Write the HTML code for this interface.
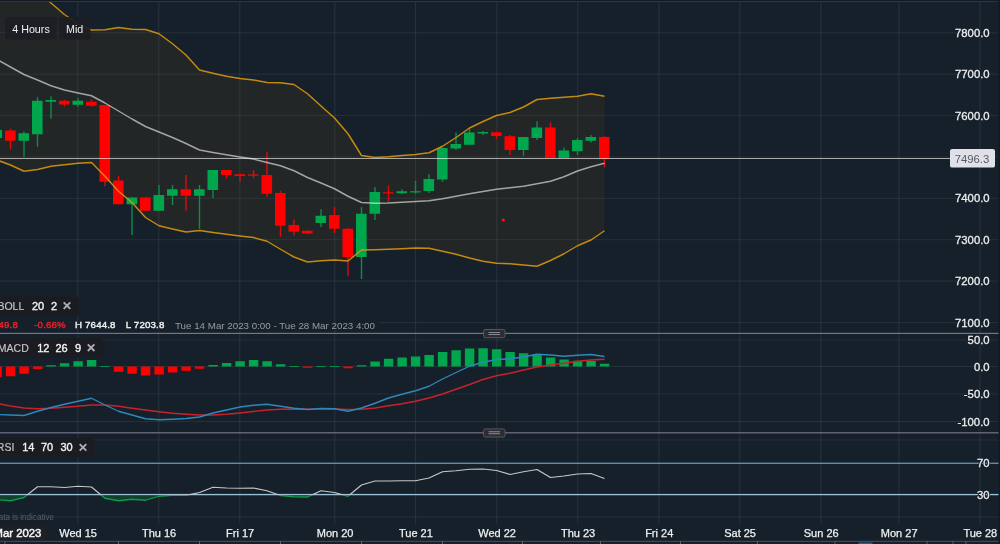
<!DOCTYPE html>
<html lang="en"><head><meta charset="utf-8"><title>Chart</title>
<style>html,body{margin:0;padding:0;background:#111a22;overflow:hidden}svg{display:block}text{font-family:"Liberation Sans",sans-serif}</style>
</head><body>
<svg width="1000" height="544" viewBox="0 0 1000 544">
<rect x="0" y="0" width="1000" height="544" fill="#111a22"/>
<rect x="0" y="1" width="998.5" height="543" fill="#16202a"/>
<rect x="0" y="1" width="998.5" height="1" fill="#2a3845"/>
<clipPath id="mainclip"><rect x="0" y="2" width="998.5" height="331"/></clipPath>
<g clip-path="url(#mainclip)">
<polygon fill="#232727" fill-opacity="0.96" points="-3.0,-52.00 10.5,-38.00 24.0,-24.00 37.5,-10.00 51.0,3.00 64.5,14.50 78.0,24.00 91.5,30.00 105.0,29.75 118.5,27.50 132.0,29.25 145.5,29.50 159.0,33.75 172.5,43.75 186.0,55.00 199.5,70.00 213.0,73.25 226.5,76.25 240.0,78.50 253.5,80.00 267.0,82.50 280.5,82.75 294.0,84.50 307.5,93.75 321.0,106.00 334.5,118.00 348.0,133.75 361.5,155.50 375.0,157.50 388.5,156.75 402.0,155.50 415.5,154.50 429.0,152.75 442.5,146.25 456.0,137.50 469.5,128.00 483.0,121.50 496.5,115.50 510.0,112.50 523.5,107.00 537.0,99.50 550.5,98.25 564.0,97.25 577.5,96.25 591.0,93.75 604.5,96.25 604.5,230.75 591.0,240.00 577.5,245.75 564.0,253.75 550.5,260.50 537.0,266.25 523.5,265.00 510.0,263.75 496.5,263.25 483.0,261.25 469.5,258.00 456.0,254.25 442.5,251.25 429.0,248.25 415.5,248.00 402.0,248.75 388.5,249.25 375.0,249.75 361.5,250.00 348.0,261.00 334.5,260.00 321.0,260.75 307.5,262.00 294.0,257.00 280.5,249.25 267.0,241.25 253.5,237.50 240.0,236.00 226.5,234.25 213.0,232.50 199.5,230.50 186.0,232.00 172.5,229.00 159.0,225.75 145.5,217.50 132.0,202.50 118.5,191.25 105.0,176.25 91.5,162.50 78.0,163.25 64.5,164.75 51.0,166.25 37.5,169.50 24.0,171.25 10.5,165.00 -3.0,160.00"/>
</g>
<rect x="77.3" y="2" width="1" height="521.5" fill="#8a97a3" fill-opacity="0.16"/>
<rect x="158.3" y="2" width="1" height="521.5" fill="#8a97a3" fill-opacity="0.16"/>
<rect x="239.3" y="2" width="1" height="521.5" fill="#8a97a3" fill-opacity="0.16"/>
<rect x="334.3" y="2" width="1" height="521.5" fill="#8a97a3" fill-opacity="0.16"/>
<rect x="415.1" y="2" width="1" height="521.5" fill="#8a97a3" fill-opacity="0.16"/>
<rect x="496.3" y="2" width="1" height="521.5" fill="#8a97a3" fill-opacity="0.16"/>
<rect x="577.3" y="2" width="1" height="521.5" fill="#8a97a3" fill-opacity="0.16"/>
<rect x="658.4" y="2" width="1" height="521.5" fill="#8a97a3" fill-opacity="0.16"/>
<rect x="739.3" y="2" width="1" height="521.5" fill="#8a97a3" fill-opacity="0.16"/>
<rect x="820.4" y="2" width="1" height="521.5" fill="#8a97a3" fill-opacity="0.16"/>
<rect x="898.4" y="2" width="1" height="521.5" fill="#8a97a3" fill-opacity="0.16"/>
<rect x="979.5" y="2" width="1" height="521.5" fill="#8a97a3" fill-opacity="0.16"/>
<rect x="0" y="32.30" width="998.5" height="1" fill="#8a97a3" fill-opacity="0.14"/>
<rect x="0" y="73.68" width="998.5" height="1" fill="#8a97a3" fill-opacity="0.14"/>
<rect x="0" y="115.06" width="998.5" height="1" fill="#8a97a3" fill-opacity="0.14"/>
<rect x="0" y="156.44" width="998.5" height="1" fill="#8a97a3" fill-opacity="0.14"/>
<rect x="0" y="197.82" width="998.5" height="1" fill="#8a97a3" fill-opacity="0.14"/>
<rect x="0" y="239.20" width="998.5" height="1" fill="#8a97a3" fill-opacity="0.14"/>
<rect x="0" y="280.58" width="998.5" height="1" fill="#8a97a3" fill-opacity="0.14"/>
<rect x="379" y="321.96" width="619.5" height="1" fill="#8a97a3" fill-opacity="0.14"/>
<rect x="0" y="339.50" width="998.5" height="1" fill="#8a97a3" fill-opacity="0.14"/>
<rect x="0" y="366.00" width="998.5" height="1" fill="#8a97a3" fill-opacity="0.14"/>
<rect x="0" y="393.50" width="998.5" height="1" fill="#8a97a3" fill-opacity="0.14"/>
<rect x="0" y="421.00" width="998.5" height="1" fill="#8a97a3" fill-opacity="0.14"/>
<rect x="0" y="439.50" width="998.5" height="1" fill="#8a97a3" fill-opacity="0.14"/>
<rect x="0" y="516.50" width="998.5" height="1" fill="#8a97a3" fill-opacity="0.14"/>
<g clip-path="url(#mainclip)">
<rect x="-3.70" y="128" width="1.4" height="12.00" fill="#0b8e46"/>
<rect x="-8.50" y="130" width="10.6" height="8.00" fill="#00a64c"/>
<rect x="9.80" y="128.75" width="1.4" height="20.75" fill="#dc0a0a"/>
<rect x="5.00" y="130.5" width="10.6" height="10.25" fill="#ff0000"/>
<rect x="23.30" y="131.5" width="1.4" height="25.50" fill="#0b8e46"/>
<rect x="18.50" y="133.25" width="10.6" height="7.50" fill="#00a64c"/>
<rect x="36.80" y="97" width="1.4" height="49.75" fill="#0b8e46"/>
<rect x="32.00" y="100.75" width="10.6" height="33.50" fill="#00a64c"/>
<rect x="50.30" y="96.25" width="1.4" height="22.50" fill="#0b8e46"/>
<rect x="45.50" y="100" width="10.6" height="1.75" fill="#00a64c"/>
<rect x="63.80" y="100" width="1.4" height="6.50" fill="#dc0a0a"/>
<rect x="59.00" y="100.75" width="10.6" height="3.75" fill="#ff0000"/>
<rect x="77.30" y="98.25" width="1.4" height="8.50" fill="#0b8e46"/>
<rect x="72.50" y="100.75" width="10.6" height="4.00" fill="#00a64c"/>
<rect x="90.80" y="99.5" width="1.4" height="7.25" fill="#dc0a0a"/>
<rect x="86.00" y="101.75" width="10.6" height="4.00" fill="#ff0000"/>
<rect x="104.30" y="105" width="1.4" height="81.25" fill="#dc0a0a"/>
<rect x="99.50" y="105" width="10.6" height="76.75" fill="#ff0000"/>
<rect x="117.80" y="175.75" width="1.4" height="28.50" fill="#dc0a0a"/>
<rect x="113.00" y="180.5" width="10.6" height="23.75" fill="#ff0000"/>
<rect x="131.30" y="197.5" width="1.4" height="37.50" fill="#0b8e46"/>
<rect x="126.50" y="197.5" width="10.6" height="6.75" fill="#00a64c"/>
<rect x="144.80" y="197.5" width="1.4" height="13.25" fill="#dc0a0a"/>
<rect x="140.00" y="197.5" width="10.6" height="13.25" fill="#ff0000"/>
<rect x="158.30" y="185" width="1.4" height="25.75" fill="#0b8e46"/>
<rect x="153.50" y="195" width="10.6" height="15.75" fill="#00a64c"/>
<rect x="171.80" y="185" width="1.4" height="20.00" fill="#0b8e46"/>
<rect x="167.00" y="189.25" width="10.6" height="6.50" fill="#00a64c"/>
<rect x="185.30" y="175" width="1.4" height="35.75" fill="#dc0a0a"/>
<rect x="180.50" y="189.25" width="10.6" height="6.50" fill="#ff0000"/>
<rect x="198.80" y="185" width="1.4" height="43.75" fill="#0b8e46"/>
<rect x="194.00" y="189.25" width="10.6" height="6.50" fill="#00a64c"/>
<rect x="212.30" y="170" width="1.4" height="28.00" fill="#0b8e46"/>
<rect x="207.50" y="170" width="10.6" height="20.00" fill="#00a64c"/>
<rect x="225.80" y="170" width="1.4" height="8.75" fill="#dc0a0a"/>
<rect x="221.00" y="170" width="10.6" height="5.00" fill="#ff0000"/>
<rect x="239.30" y="174" width="1.4" height="7.75" fill="#dc0a0a"/>
<rect x="234.50" y="174.25" width="10.6" height="1.75" fill="#ff0000"/>
<rect x="252.80" y="170" width="1.4" height="8.00" fill="#dc0a0a"/>
<rect x="248.00" y="174.5" width="10.6" height="1.20" fill="#ff0000"/>
<rect x="266.30" y="152" width="1.4" height="45.00" fill="#dc0a0a"/>
<rect x="261.50" y="175" width="10.6" height="18.75" fill="#ff0000"/>
<rect x="279.80" y="190.75" width="1.4" height="46.00" fill="#dc0a0a"/>
<rect x="275.00" y="193" width="10.6" height="32.75" fill="#ff0000"/>
<rect x="293.30" y="219.5" width="1.4" height="16.00" fill="#dc0a0a"/>
<rect x="288.50" y="225" width="10.6" height="6.75" fill="#ff0000"/>
<rect x="306.80" y="230" width="1.4" height="4.25" fill="#dc0a0a"/>
<rect x="302.00" y="230.75" width="10.6" height="2.75" fill="#ff0000"/>
<rect x="320.30" y="209.25" width="1.4" height="17.75" fill="#0b8e46"/>
<rect x="315.50" y="215.75" width="10.6" height="7.25" fill="#00a64c"/>
<rect x="333.80" y="207" width="1.4" height="26.00" fill="#dc0a0a"/>
<rect x="329.00" y="215" width="10.6" height="13.75" fill="#ff0000"/>
<rect x="347.30" y="228" width="1.4" height="48.25" fill="#dc0a0a"/>
<rect x="342.50" y="228.75" width="10.6" height="28.25" fill="#ff0000"/>
<rect x="360.80" y="207" width="1.4" height="72.00" fill="#0b8e46"/>
<rect x="356.00" y="213.75" width="10.6" height="43.25" fill="#00a64c"/>
<rect x="374.30" y="187" width="1.4" height="33.00" fill="#0b8e46"/>
<rect x="369.50" y="192" width="10.6" height="21.75" fill="#00a64c"/>
<rect x="387.80" y="185.5" width="1.4" height="16.50" fill="#dc0a0a"/>
<rect x="383.00" y="192.25" width="10.6" height="1.20" fill="#ff0000"/>
<rect x="401.30" y="189.25" width="1.4" height="4.75" fill="#0b8e46"/>
<rect x="396.50" y="191.25" width="10.6" height="2.00" fill="#00a64c"/>
<rect x="414.80" y="180.75" width="1.4" height="13.00" fill="#0b8e46"/>
<rect x="410.00" y="191.25" width="10.6" height="1.20" fill="#00a64c"/>
<rect x="428.30" y="174.25" width="1.4" height="18.75" fill="#0b8e46"/>
<rect x="423.50" y="179" width="10.6" height="12.00" fill="#00a64c"/>
<rect x="441.80" y="147.5" width="1.4" height="34.25" fill="#0b8e46"/>
<rect x="437.00" y="148" width="10.6" height="31.50" fill="#00a64c"/>
<rect x="455.30" y="132.5" width="1.4" height="17.50" fill="#0b8e46"/>
<rect x="450.50" y="144" width="10.6" height="4.50" fill="#00a64c"/>
<rect x="468.80" y="128.75" width="1.4" height="16.00" fill="#0b8e46"/>
<rect x="464.00" y="132.5" width="10.6" height="12.25" fill="#00a64c"/>
<rect x="482.30" y="131.25" width="1.4" height="3.75" fill="#0b8e46"/>
<rect x="477.50" y="132" width="10.6" height="1.50" fill="#00a64c"/>
<rect x="495.80" y="132.25" width="1.4" height="6.50" fill="#dc0a0a"/>
<rect x="491.00" y="132.25" width="10.6" height="3.75" fill="#ff0000"/>
<rect x="509.30" y="135" width="1.4" height="20.00" fill="#dc0a0a"/>
<rect x="504.50" y="136.25" width="10.6" height="13.75" fill="#ff0000"/>
<rect x="522.80" y="137" width="1.4" height="18.75" fill="#0b8e46"/>
<rect x="518.00" y="137" width="10.6" height="13.00" fill="#00a64c"/>
<rect x="536.30" y="121.25" width="1.4" height="18.75" fill="#0b8e46"/>
<rect x="531.50" y="127.5" width="10.6" height="10.50" fill="#00a64c"/>
<rect x="549.80" y="122.5" width="1.4" height="35.50" fill="#dc0a0a"/>
<rect x="545.00" y="127.5" width="10.6" height="30.50" fill="#ff0000"/>
<rect x="563.30" y="147.5" width="1.4" height="10.50" fill="#0b8e46"/>
<rect x="558.50" y="150.5" width="10.6" height="7.50" fill="#00a64c"/>
<rect x="576.80" y="138" width="1.4" height="17.00" fill="#0b8e46"/>
<rect x="572.00" y="140" width="10.6" height="11.25" fill="#00a64c"/>
<rect x="590.30" y="135" width="1.4" height="7.50" fill="#0b8e46"/>
<rect x="585.50" y="137" width="10.6" height="3.75" fill="#00a64c"/>
<rect x="603.80" y="136.25" width="1.4" height="31.25" fill="#dc0a0a"/>
<rect x="599.00" y="137" width="10.6" height="22.00" fill="#ff0000"/>
<polyline fill="none" stroke="#d7960c" stroke-opacity="0.9" stroke-width="1.45" stroke-linejoin="round" points="-3.0,-52.00 10.5,-38.00 24.0,-24.00 37.5,-10.00 51.0,3.00 64.5,14.50 78.0,24.00 91.5,30.00 105.0,29.75 118.5,27.50 132.0,29.25 145.5,29.50 159.0,33.75 172.5,43.75 186.0,55.00 199.5,70.00 213.0,73.25 226.5,76.25 240.0,78.50 253.5,80.00 267.0,82.50 280.5,82.75 294.0,84.50 307.5,93.75 321.0,106.00 334.5,118.00 348.0,133.75 361.5,155.50 375.0,157.50 388.5,156.75 402.0,155.50 415.5,154.50 429.0,152.75 442.5,146.25 456.0,137.50 469.5,128.00 483.0,121.50 496.5,115.50 510.0,112.50 523.5,107.00 537.0,99.50 550.5,98.25 564.0,97.25 577.5,96.25 591.0,93.75 604.5,96.25"/>
<polyline fill="none" stroke="#d7960c" stroke-opacity="0.9" stroke-width="1.45" stroke-linejoin="round" points="-3.0,160.00 10.5,165.00 24.0,171.25 37.5,169.50 51.0,166.25 64.5,164.75 78.0,163.25 91.5,162.50 105.0,176.25 118.5,191.25 132.0,202.50 145.5,217.50 159.0,225.75 172.5,229.00 186.0,232.00 199.5,230.50 213.0,232.50 226.5,234.25 240.0,236.00 253.5,237.50 267.0,241.25 280.5,249.25 294.0,257.00 307.5,262.00 321.0,260.75 334.5,260.00 348.0,261.00 361.5,250.00 375.0,249.75 388.5,249.25 402.0,248.75 415.5,248.00 429.0,248.25 442.5,251.25 456.0,254.25 469.5,258.00 483.0,261.25 496.5,263.25 510.0,263.75 523.5,265.00 537.0,266.25 550.5,260.50 564.0,253.75 577.5,245.75 591.0,240.00 604.5,230.75"/>
<polyline fill="none" stroke="#e6e6e6" stroke-opacity="0.66" stroke-width="1.45" stroke-linejoin="round" points="-3.0,59.50 10.5,67.00 24.0,74.50 37.5,80.00 51.0,85.75 64.5,90.00 78.0,93.00 91.5,95.75 105.0,103.00 118.5,111.00 132.0,119.00 145.5,126.50 159.0,132.00 172.5,137.50 186.0,143.50 199.5,150.00 213.0,152.50 226.5,154.75 240.0,157.00 253.5,159.00 267.0,162.50 280.5,165.75 294.0,170.75 307.5,177.50 321.0,183.00 334.5,188.75 348.0,196.25 361.5,202.50 375.0,203.25 388.5,203.00 402.0,202.25 415.5,201.50 429.0,200.75 442.5,198.75 456.0,196.25 469.5,193.75 483.0,191.50 496.5,189.25 510.0,187.75 523.5,186.25 537.0,183.75 550.5,181.25 564.0,176.75 577.5,171.00 591.0,166.75 604.5,163.25"/>
<circle cx="503.3" cy="220" r="1.6" fill="#ff1010"/>
</g>
<rect x="0" y="158" width="951" height="1" fill="#fffffa" fill-opacity="0.62"/>
<clipPath id="macdclip"><rect x="0" y="334" width="998.5" height="98"/></clipPath>
<g clip-path="url(#macdclip)">
<rect x="-7.60" y="366.5" width="9.4" height="10.50" fill="#ff0000"/>
<rect x="5.90" y="366.5" width="9.4" height="9.75" fill="#ff0000"/>
<rect x="19.40" y="366.5" width="9.4" height="7.25" fill="#ff0000"/>
<rect x="32.90" y="366.5" width="9.4" height="2.50" fill="#ff0000"/>
<rect x="46.40" y="365.25" width="9.4" height="1.25" fill="#00a64c"/>
<rect x="59.90" y="363.25" width="9.4" height="3.25" fill="#00a64c"/>
<rect x="73.40" y="361.25" width="9.4" height="5.25" fill="#00a64c"/>
<rect x="86.90" y="360" width="9.4" height="6.50" fill="#00a64c"/>
<rect x="100.40" y="366" width="9.4" height="0.80" fill="#00a64c"/>
<rect x="113.90" y="366.5" width="9.4" height="5.25" fill="#ff0000"/>
<rect x="127.40" y="366.5" width="9.4" height="7.25" fill="#ff0000"/>
<rect x="140.90" y="366.5" width="9.4" height="9.00" fill="#ff0000"/>
<rect x="154.40" y="366.5" width="9.4" height="8.00" fill="#ff0000"/>
<rect x="167.90" y="366.5" width="9.4" height="6.00" fill="#ff0000"/>
<rect x="181.40" y="366.5" width="9.4" height="4.25" fill="#ff0000"/>
<rect x="194.90" y="366.5" width="9.4" height="2.25" fill="#ff0000"/>
<rect x="208.40" y="365" width="9.4" height="1.50" fill="#00a64c"/>
<rect x="221.90" y="363" width="9.4" height="3.50" fill="#00a64c"/>
<rect x="235.40" y="361.25" width="9.4" height="5.25" fill="#00a64c"/>
<rect x="248.90" y="360" width="9.4" height="6.50" fill="#00a64c"/>
<rect x="262.40" y="361.25" width="9.4" height="5.25" fill="#00a64c"/>
<rect x="275.90" y="364.25" width="9.4" height="2.25" fill="#00a64c"/>
<rect x="289.40" y="366" width="9.4" height="0.80" fill="#00a64c"/>
<rect x="302.90" y="366.5" width="9.4" height="1.25" fill="#ff0000"/>
<rect x="316.40" y="366" width="9.4" height="0.80" fill="#00a64c"/>
<rect x="329.90" y="366" width="9.4" height="0.80" fill="#00a64c"/>
<rect x="343.40" y="366.5" width="9.4" height="1.75" fill="#ff0000"/>
<rect x="356.90" y="365.25" width="9.4" height="1.25" fill="#00a64c"/>
<rect x="370.40" y="361.5" width="9.4" height="5.00" fill="#00a64c"/>
<rect x="383.90" y="358.75" width="9.4" height="7.75" fill="#00a64c"/>
<rect x="397.40" y="357.5" width="9.4" height="9.00" fill="#00a64c"/>
<rect x="410.90" y="356.5" width="9.4" height="10.00" fill="#00a64c"/>
<rect x="424.40" y="355" width="9.4" height="11.50" fill="#00a64c"/>
<rect x="437.90" y="352" width="9.4" height="14.50" fill="#00a64c"/>
<rect x="451.40" y="350.25" width="9.4" height="16.25" fill="#00a64c"/>
<rect x="464.90" y="348.5" width="9.4" height="18.00" fill="#00a64c"/>
<rect x="478.40" y="348.25" width="9.4" height="18.25" fill="#00a64c"/>
<rect x="491.90" y="349.25" width="9.4" height="17.25" fill="#00a64c"/>
<rect x="505.40" y="352" width="9.4" height="14.50" fill="#00a64c"/>
<rect x="518.90" y="353.25" width="9.4" height="13.25" fill="#00a64c"/>
<rect x="532.40" y="354.25" width="9.4" height="12.25" fill="#00a64c"/>
<rect x="545.90" y="357.5" width="9.4" height="9.00" fill="#00a64c"/>
<rect x="559.40" y="359.5" width="9.4" height="7.00" fill="#00a64c"/>
<rect x="572.90" y="360.75" width="9.4" height="5.75" fill="#00a64c"/>
<rect x="586.40" y="361" width="9.4" height="5.50" fill="#00a64c"/>
<rect x="599.90" y="363.75" width="9.4" height="2.75" fill="#00a64c"/>
<polyline fill="none" stroke="#c8222d" stroke-width="1.35" stroke-linejoin="round" points="-3.0,403.50 10.5,406.00 24.0,408.00 37.5,408.75 51.0,408.25 64.5,407.25 78.0,406.25 91.5,405.00 105.0,405.00 118.5,406.25 132.0,408.25 145.5,410.00 159.0,411.75 172.5,413.25 186.0,414.25 199.5,415.00 213.0,415.00 226.5,414.25 240.0,413.00 253.5,411.50 267.0,410.00 280.5,409.25 294.0,409.00 307.5,409.25 321.0,409.00 334.5,409.00 348.0,409.50 361.5,409.25 375.0,408.00 388.5,405.75 402.0,403.75 415.5,401.25 429.0,398.00 442.5,394.00 456.0,389.25 469.5,384.50 483.0,379.50 496.5,375.75 510.0,373.25 523.5,370.00 537.0,367.00 550.5,365.00 564.0,363.25 577.5,361.25 591.0,360.00 604.5,359.25"/>
<polyline fill="none" stroke="#2e88bc" stroke-width="1.35" stroke-linejoin="round" points="-3.0,414.50 10.5,415.00 24.0,415.50 37.5,411.25 51.0,407.50 64.5,404.25 78.0,401.25 91.5,398.25 105.0,405.00 118.5,411.25 132.0,415.00 145.5,418.75 159.0,419.75 172.5,419.25 186.0,418.50 199.5,417.00 213.0,413.00 226.5,410.00 240.0,407.00 253.5,405.25 267.0,404.25 280.5,406.25 294.0,408.25 307.5,409.50 321.0,408.50 334.5,408.75 348.0,411.25 361.5,408.00 375.0,403.25 388.5,398.00 402.0,394.25 415.5,390.75 429.0,386.25 442.5,379.00 456.0,372.50 469.5,366.25 483.0,362.25 496.5,359.50 510.0,358.75 523.5,357.00 537.0,354.25 550.5,355.00 564.0,356.25 577.5,355.25 591.0,354.50 604.5,356.50"/>
</g>
<rect x="0" y="462.6" width="998.5" height="1.35" fill="#6390b5"/>
<rect x="0" y="493.9" width="998.5" height="1.35" fill="#9bc0d6"/>
<clipPath id="rsilow"><rect x="-10" y="495.2" width="1010" height="30"/></clipPath>
<clipPath id="rsihigh"><rect x="-10" y="434" width="1010" height="61.2"/></clipPath>
<g clip-path="url(#rsilow)">
<polygon fill="#0a6a34" fill-opacity="0.45" points="-3.0,494.5 -3.0,499.50 10.5,500.75 24.0,497.50 37.5,486.75 51.0,486.75 64.5,487.50 78.0,486.25 91.5,487.00 105.0,498.25 118.5,500.75 132.0,499.25 145.5,500.25 159.0,496.25 172.5,495.40 186.0,495.40 199.5,492.50 213.0,487.25 226.5,488.00 240.0,488.25 253.5,488.00 267.0,490.75 280.5,495.50 294.0,496.75 307.5,497.00 321.0,490.75 334.5,492.50 348.0,496.25 361.5,485.00 375.0,481.00 388.5,481.00 402.0,480.75 415.5,480.75 429.0,478.00 442.5,471.75 456.0,470.75 469.5,469.25 483.0,469.00 496.5,470.50 510.0,474.50 523.5,471.75 537.0,469.50 550.5,477.50 564.0,476.00 577.5,474.00 591.0,473.50 604.5,478.50 604.5,494.5"/>
<polyline fill="none" stroke="#0f9a48" stroke-width="1.3" stroke-linejoin="round" points="-3.0,499.50 10.5,500.75 24.0,497.50 37.5,486.75 51.0,486.75 64.5,487.50 78.0,486.25 91.5,487.00 105.0,498.25 118.5,500.75 132.0,499.25 145.5,500.25 159.0,496.25 172.5,495.40 186.0,495.40 199.5,492.50 213.0,487.25 226.5,488.00 240.0,488.25 253.5,488.00 267.0,490.75 280.5,495.50 294.0,496.75 307.5,497.00 321.0,490.75 334.5,492.50 348.0,496.25 361.5,485.00 375.0,481.00 388.5,481.00 402.0,480.75 415.5,480.75 429.0,478.00 442.5,471.75 456.0,470.75 469.5,469.25 483.0,469.00 496.5,470.50 510.0,474.50 523.5,471.75 537.0,469.50 550.5,477.50 564.0,476.00 577.5,474.00 591.0,473.50 604.5,478.50"/>
</g>
<g clip-path="url(#rsihigh)">
<polyline fill="none" stroke="#c6c6c6" stroke-width="1.2" stroke-linejoin="round" points="-3.0,499.50 10.5,500.75 24.0,497.50 37.5,486.75 51.0,486.75 64.5,487.50 78.0,486.25 91.5,487.00 105.0,498.25 118.5,500.75 132.0,499.25 145.5,500.25 159.0,496.25 172.5,495.40 186.0,495.40 199.5,492.50 213.0,487.25 226.5,488.00 240.0,488.25 253.5,488.00 267.0,490.75 280.5,495.50 294.0,496.75 307.5,497.00 321.0,490.75 334.5,492.50 348.0,496.25 361.5,485.00 375.0,481.00 388.5,481.00 402.0,480.75 415.5,480.75 429.0,478.00 442.5,471.75 456.0,470.75 469.5,469.25 483.0,469.00 496.5,470.50 510.0,474.50 523.5,471.75 537.0,469.50 550.5,477.50 564.0,476.00 577.5,474.00 591.0,473.50 604.5,478.50"/>
</g>
<rect x="0" y="332.79999999999995" width="998.5" height="1.2" fill="#747387"/>
<rect x="483.6" y="329.5" width="21.4" height="8.2" rx="1.5" fill="#2d2c31" stroke="#5a5b6c" stroke-width="0.9"/>
<rect x="488.5" y="332.0" width="11.5" height="0.8" fill="#a3a4b3"/>
<rect x="488.5" y="334.0" width="11.5" height="0.8" fill="#a3a4b3"/>
<rect x="0" y="432.2" width="998.5" height="1.2" fill="#747387"/>
<rect x="483.6" y="428.90000000000003" width="21.4" height="8.2" rx="1.5" fill="#2d2c31" stroke="#5a5b6c" stroke-width="0.9"/>
<rect x="488.5" y="431.40000000000003" width="11.5" height="0.8" fill="#a3a4b3"/>
<rect x="488.5" y="433.40000000000003" width="11.5" height="0.8" fill="#a3a4b3"/>
<text x="989.6" y="36.90" font-size="11.3" text-anchor="end" fill="#16202a" stroke="#16202a" stroke-width="2.2" stroke-linejoin="round">7800.0</text>
<text x="989.6" y="36.90" font-size="11.3" text-anchor="end" fill="#eceef0" stroke="#eceef0" stroke-width="0.3">7800.0</text>
<text x="989.6" y="78.28" font-size="11.3" text-anchor="end" fill="#16202a" stroke="#16202a" stroke-width="2.2" stroke-linejoin="round">7700.0</text>
<text x="989.6" y="78.28" font-size="11.3" text-anchor="end" fill="#eceef0" stroke="#eceef0" stroke-width="0.3">7700.0</text>
<text x="989.6" y="119.66" font-size="11.3" text-anchor="end" fill="#16202a" stroke="#16202a" stroke-width="2.2" stroke-linejoin="round">7600.0</text>
<text x="989.6" y="119.66" font-size="11.3" text-anchor="end" fill="#eceef0" stroke="#eceef0" stroke-width="0.3">7600.0</text>
<text x="989.6" y="202.42" font-size="11.3" text-anchor="end" fill="#16202a" stroke="#16202a" stroke-width="2.2" stroke-linejoin="round">7400.0</text>
<text x="989.6" y="202.42" font-size="11.3" text-anchor="end" fill="#eceef0" stroke="#eceef0" stroke-width="0.3">7400.0</text>
<text x="989.6" y="243.80" font-size="11.3" text-anchor="end" fill="#16202a" stroke="#16202a" stroke-width="2.2" stroke-linejoin="round">7300.0</text>
<text x="989.6" y="243.80" font-size="11.3" text-anchor="end" fill="#eceef0" stroke="#eceef0" stroke-width="0.3">7300.0</text>
<text x="989.6" y="285.18" font-size="11.3" text-anchor="end" fill="#16202a" stroke="#16202a" stroke-width="2.2" stroke-linejoin="round">7200.0</text>
<text x="989.6" y="285.18" font-size="11.3" text-anchor="end" fill="#eceef0" stroke="#eceef0" stroke-width="0.3">7200.0</text>
<text x="989.6" y="326.56" font-size="11.3" text-anchor="end" fill="#16202a" stroke="#16202a" stroke-width="2.2" stroke-linejoin="round">7100.0</text>
<text x="989.6" y="326.56" font-size="11.3" text-anchor="end" fill="#eceef0" stroke="#eceef0" stroke-width="0.3">7100.0</text>
<text x="989.6" y="344.20" font-size="11.3" text-anchor="end" fill="#16202a" stroke="#16202a" stroke-width="2.2" stroke-linejoin="round">50.0</text>
<text x="989.6" y="344.20" font-size="11.3" text-anchor="end" fill="#eceef0" stroke="#eceef0" stroke-width="0.3">50.0</text>
<text x="989.6" y="370.80" font-size="11.3" text-anchor="end" fill="#16202a" stroke="#16202a" stroke-width="2.2" stroke-linejoin="round">0.0</text>
<text x="989.6" y="370.80" font-size="11.3" text-anchor="end" fill="#eceef0" stroke="#eceef0" stroke-width="0.3">0.0</text>
<text x="989.6" y="398.40" font-size="11.3" text-anchor="end" fill="#16202a" stroke="#16202a" stroke-width="2.2" stroke-linejoin="round">-50.0</text>
<text x="989.6" y="398.40" font-size="11.3" text-anchor="end" fill="#eceef0" stroke="#eceef0" stroke-width="0.3">-50.0</text>
<text x="989.6" y="425.90" font-size="11.3" text-anchor="end" fill="#16202a" stroke="#16202a" stroke-width="2.2" stroke-linejoin="round">-100.0</text>
<text x="989.6" y="425.90" font-size="11.3" text-anchor="end" fill="#eceef0" stroke="#eceef0" stroke-width="0.3">-100.0</text>
<text x="989.6" y="467.40" font-size="11.3" text-anchor="end" fill="#16202a" stroke="#16202a" stroke-width="2.2" stroke-linejoin="round">70</text>
<text x="989.6" y="467.40" font-size="11.3" text-anchor="end" fill="#eceef0" stroke="#eceef0" stroke-width="0.3">70</text>
<text x="989.6" y="498.80" font-size="11.3" text-anchor="end" fill="#16202a" stroke="#16202a" stroke-width="2.2" stroke-linejoin="round">30</text>
<text x="989.6" y="498.80" font-size="11.3" text-anchor="end" fill="#eceef0" stroke="#eceef0" stroke-width="0.3">30</text>
<rect x="950" y="149" width="45" height="18.6" rx="2.2" fill="#dfe0e8"/>
<text x="989.2" y="163" font-size="11.3" text-anchor="end" fill="#555968">7496.3</text>
<rect x="5" y="17" width="51.8" height="22.5" rx="2" fill="#1c1e23" fill-opacity="0.93"/>
<rect x="59" y="17" width="31.5" height="22.5" rx="2" fill="#1c1e23" fill-opacity="0.93"/>
<text x="12.3" y="32.8" font-size="10.7" fill="#f0f0f0">4 Hours</text>
<text x="66" y="32.8" font-size="10.7" fill="#f0f0f0">Mid</text>
<rect x="-4" y="296.4" width="82.7" height="19.4" rx="2.8" fill="#1b1c21"/>
<text x="-2.6" y="309.7" font-size="10.5" fill="#c4c6ca" stroke="#c4c6ca" stroke-width="0.15">BOLL</text>
<text x="32" y="309.7" font-size="11" fill="#f4f4f4" stroke="#f4f4f4" stroke-width="0.35">20</text>
<text x="51" y="309.7" font-size="11" fill="#f4f4f4" stroke="#f4f4f4" stroke-width="0.35">2</text>
<rect x="-4" y="338.3" width="106.6" height="19.4" rx="2.8" fill="#1b1c21"/>
<text x="-2.2" y="351.6" font-size="10.5" fill="#c4c6ca" stroke="#c4c6ca" stroke-width="0.15">MACD</text>
<text x="37.2" y="351.6" font-size="11" fill="#f4f4f4" stroke="#f4f4f4" stroke-width="0.35">12</text>
<text x="55.5" y="351.6" font-size="11" fill="#f4f4f4" stroke="#f4f4f4" stroke-width="0.35">26</text>
<text x="75" y="351.6" font-size="11" fill="#f4f4f4" stroke="#f4f4f4" stroke-width="0.35">9</text>
<rect x="-4" y="438.0" width="98" height="19.4" rx="2.8" fill="#1b1c21"/>
<text x="-3.2" y="451.3" font-size="10.5" fill="#c4c6ca" stroke="#c4c6ca" stroke-width="0.15">RSI</text>
<text x="22.2" y="451.3" font-size="11" fill="#f4f4f4" stroke="#f4f4f4" stroke-width="0.35">14</text>
<text x="41" y="451.3" font-size="11" fill="#f4f4f4" stroke="#f4f4f4" stroke-width="0.35">70</text>
<text x="60.5" y="451.3" font-size="11" fill="#f4f4f4" stroke="#f4f4f4" stroke-width="0.35">30</text>
<path d="M63.7 302.3 L70.3 308.90000000000003 M70.3 302.3 L63.7 308.90000000000003" stroke="#adadb8" stroke-width="1.9" fill="none"/>
<path d="M87.8 344.4 L94.39999999999999 351.0 M94.39999999999999 344.4 L87.8 351.0" stroke="#adadb8" stroke-width="1.9" fill="none"/>
<path d="M79.7 444.09999999999997 L86.3 450.7 M86.3 444.09999999999997 L79.7 450.7" stroke="#adadb8" stroke-width="1.9" fill="none"/>
<text x="18" y="328.4" font-size="9.7" letter-spacing="0.17" fill="#e8202c" stroke="#e8202c" stroke-width="0.4" text-anchor="end">7549.8</text>
<text x="34.2" y="328.4" font-size="9.7" letter-spacing="0.17" fill="#e8202c" stroke="#e8202c" stroke-width="0.4" text-anchor="start">-0.66%</text>
<text x="75" y="328.4" font-size="9.7" letter-spacing="0.17" fill="#f0f0f0" stroke="#f0f0f0" stroke-width="0.4" text-anchor="start">H 7644.8</text>
<text x="125.8" y="328.4" font-size="9.7" letter-spacing="0.17" fill="#f0f0f0" stroke="#f0f0f0" stroke-width="0.4" text-anchor="start">L 7203.8</text>
<text x="175" y="328.5" font-size="9.78" fill="#959ba3">Tue 14 Mar 2023 0:00 - Tue 28 Mar 2023 4:00</text>
<text x="-7.2" y="520.4" font-size="9" textLength="61.2" lengthAdjust="spacingAndGlyphs" fill="#56606a">Data is indicative</text>
<rect x="-2" y="525.2" width="48.8" height="14.6" rx="1.5" fill="#1d2025"/>
<text x="41.3" y="536.6" font-size="11.3" text-anchor="end" fill="#f4f4f4" stroke="#f4f4f4" stroke-width="0.5">Mar 2023</text>
<text x="78.1" y="536.6" font-size="11" text-anchor="middle" fill="#f0f0f0" stroke="#f0f0f0" stroke-width="0.25">Wed 15</text>
<text x="159.10000000000002" y="536.6" font-size="11" text-anchor="middle" fill="#f0f0f0" stroke="#f0f0f0" stroke-width="0.25">Thu 16</text>
<text x="240.10000000000002" y="536.6" font-size="11" text-anchor="middle" fill="#f0f0f0" stroke="#f0f0f0" stroke-width="0.25">Fri 17</text>
<text x="335.1" y="536.6" font-size="11" text-anchor="middle" fill="#f0f0f0" stroke="#f0f0f0" stroke-width="0.25">Mon 20</text>
<text x="415.90000000000003" y="536.6" font-size="11" text-anchor="middle" fill="#f0f0f0" stroke="#f0f0f0" stroke-width="0.25">Tue 21</text>
<text x="497.1" y="536.6" font-size="11" text-anchor="middle" fill="#f0f0f0" stroke="#f0f0f0" stroke-width="0.25">Wed 22</text>
<text x="578.0999999999999" y="536.6" font-size="11" text-anchor="middle" fill="#f0f0f0" stroke="#f0f0f0" stroke-width="0.25">Thu 23</text>
<text x="659.1999999999999" y="536.6" font-size="11" text-anchor="middle" fill="#f0f0f0" stroke="#f0f0f0" stroke-width="0.25">Fri 24</text>
<text x="740.0999999999999" y="536.6" font-size="11" text-anchor="middle" fill="#f0f0f0" stroke="#f0f0f0" stroke-width="0.25">Sat 25</text>
<text x="821.1999999999999" y="536.6" font-size="11" text-anchor="middle" fill="#f0f0f0" stroke="#f0f0f0" stroke-width="0.25">Sun 26</text>
<text x="899.1999999999999" y="536.6" font-size="11" text-anchor="middle" fill="#f0f0f0" stroke="#f0f0f0" stroke-width="0.25">Mon 27</text>
<text x="980.3" y="536.6" font-size="11" text-anchor="middle" fill="#f0f0f0" stroke="#f0f0f0" stroke-width="0.25">Tue 28</text>
<rect x="0" y="540.8" width="998.5" height="1" fill="#4a525b"/>
<rect x="4.5" y="541" width="1" height="3" fill="#59616a"/>
<rect x="118.0" y="541" width="1" height="3" fill="#59616a"/>
<rect x="199.0" y="541" width="1" height="3" fill="#59616a"/>
<rect x="280.0" y="541" width="1" height="3" fill="#59616a"/>
<rect x="361.0" y="541" width="1" height="3" fill="#59616a"/>
<rect x="442.0" y="541" width="1" height="3" fill="#59616a"/>
<rect x="522.0" y="541" width="1" height="3" fill="#59616a"/>
<rect x="600.0" y="541" width="1" height="3" fill="#59616a"/>
<rect x="680.0" y="541" width="1" height="3" fill="#59616a"/>
<rect x="757.0" y="541" width="1" height="3" fill="#59616a"/>
<rect x="834.5" y="541" width="1" height="3" fill="#59616a"/>
<rect x="926.5" y="541" width="1" height="3" fill="#59616a"/>
<rect x="952.5" y="541" width="1" height="3" fill="#59616a"/>
<rect x="965.5" y="541" width="1" height="3" fill="#59616a"/>
<rect x="858.5" y="542.5" width="14" height="1.5" fill="#25608a"/>
</svg></body></html>
